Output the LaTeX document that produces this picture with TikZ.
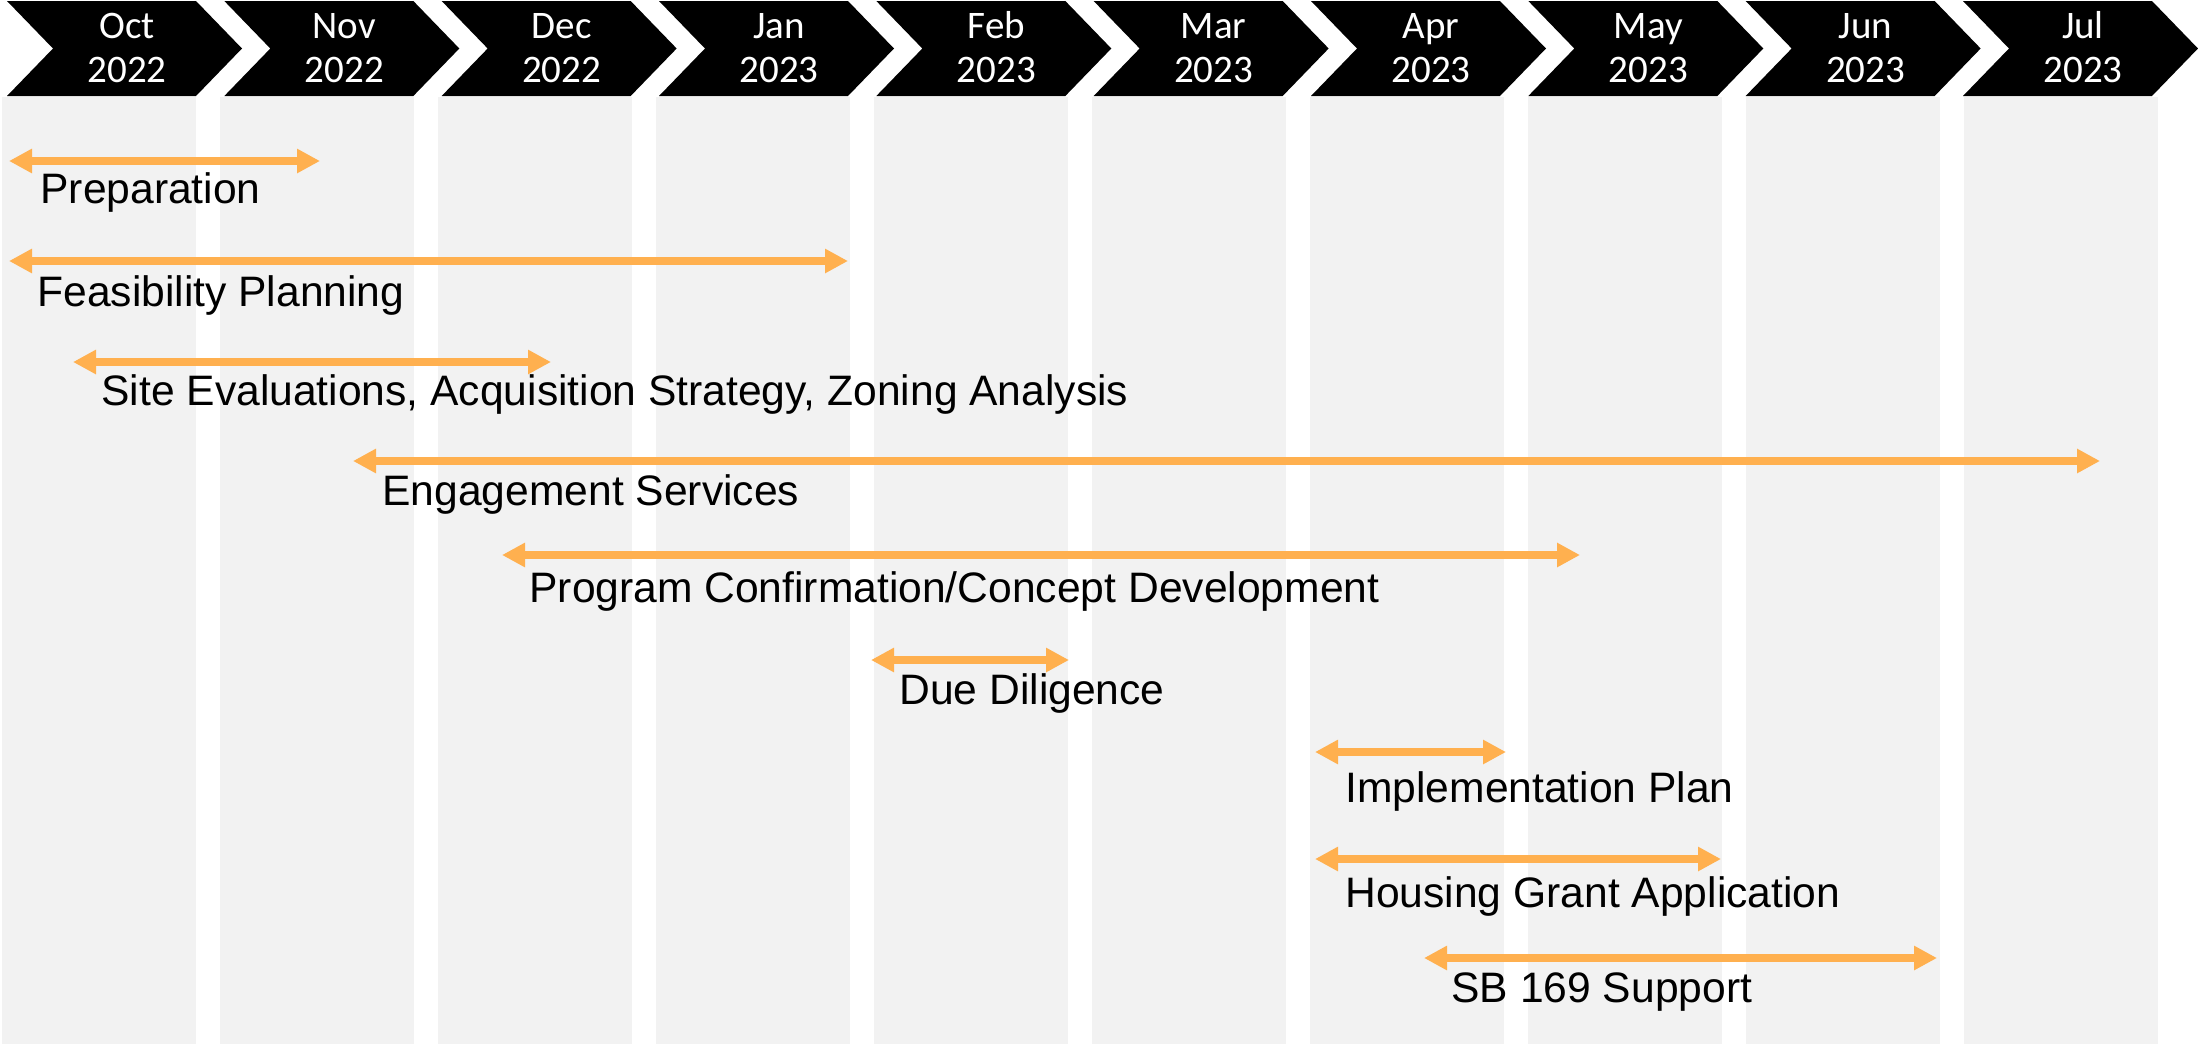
\documentclass[tikz,border=0pt]{standalone}
\usepackage{fontspec}
\usetikzlibrary{arrows.meta}
\newfontfamily\labfont{Liberation Sans}
\newfontfamily\calibfont{Carlito}
\definecolor{colbg}{HTML}{F2F2F2}
\definecolor{spanorange}{HTML}{FFB04F}
\tikzset{
  chevshape/.style={fill=black},
  colstrip/.style={fill=colbg},
  mlabel/.style={text=white, font=\calibfont\fontsize{19.5}{22}\selectfont, anchor=base, inner sep=0pt},
  tasklabel/.style={text=black, font=\labfont\fontsize{21.3}{25}\selectfont, anchor=base west, inner sep=0pt},
  span/.style={draw=spanorange, line width=4pt, line cap=butt,
    {Triangle[length=11.5pt,width=11.5pt]}-{Triangle[length=11.5pt,width=11.5pt]}},
}
\begin{document}
\begin{tikzpicture}[x=0.5pt,y=-0.5pt]
\useasboundingbox (0,0) rectangle (2198,1044);
\fill[white] (0,0) rectangle (2198,1044);
% columns
\foreach \i in {0,...,9} {
  \fill[colstrip] ({2+218*\i},97) rectangle ({196+218*\i},1044);
}
% chevrons
\foreach \m/\yr [count=\i from 0] in {Oct/2022,Nov/2022,Dec/2022,Jan/2023,Feb/2023,Mar/2023,Apr/2023,May/2023,Jun/2023,Jul/2023} {
  \pgfmathsetmacro\L{7+217.33*\i}
  \fill[chevshape] (\L,1) -- ++(189,0) -- ++(46,47.5) -- ++(-46,47.5) -- ++(-189,0) -- ++(46,-47.5) -- cycle;
  \node[mlabel] (mon\i) at (\L+120,38) {\m};
  \node[mlabel] (yr\i) at (\L+120,82) {\yr};
}
% span end points
\coordinate (a1) at (9,161);    \coordinate (b1) at (320,161);
\coordinate (a2) at (9,261);    \coordinate (b2) at (848,261);
\coordinate (a3) at (73,362);   \coordinate (b3) at (551,362);
\coordinate (a4) at (353,461);  \coordinate (b4) at (2100,461);
\coordinate (a5) at (502,555);  \coordinate (b5) at (1580,555);
\coordinate (a6) at (871,660);  \coordinate (b6) at (1069,660);
\coordinate (a7) at (1315,752); \coordinate (b7) at (1506,752);
\coordinate (a8) at (1315,859); \coordinate (b8) at (1721,859);
\coordinate (a9) at (1424,958); \coordinate (b9) at (1937,958);
\foreach \k in {1,...,9} { \draw[span] (a\k) -- (b\k); }
% labels
\node[tasklabel] (t1) at (40,203) {Preparation};
\node[tasklabel] (t2) at (37,306) {Feasibility Planning};
\node[tasklabel] (t3) at (101,405) {Site Evaluations, Acquisition Strategy, Zoning Analysis};
\node[tasklabel] (t4) at (382,505) {Engagement Services};
\node[tasklabel] (t5) at (529,602) {Program Confirmation/Concept Development};
\node[tasklabel] (t6) at (899,704) {Due Diligence};
\node[tasklabel] (t7) at (1345,802) {Implementation Plan};
\node[tasklabel] (t8) at (1345,907) {Housing Grant Application};
\node[tasklabel] (t9) at (1451,1002) {SB 169 Support};
\end{tikzpicture}
\end{document}
